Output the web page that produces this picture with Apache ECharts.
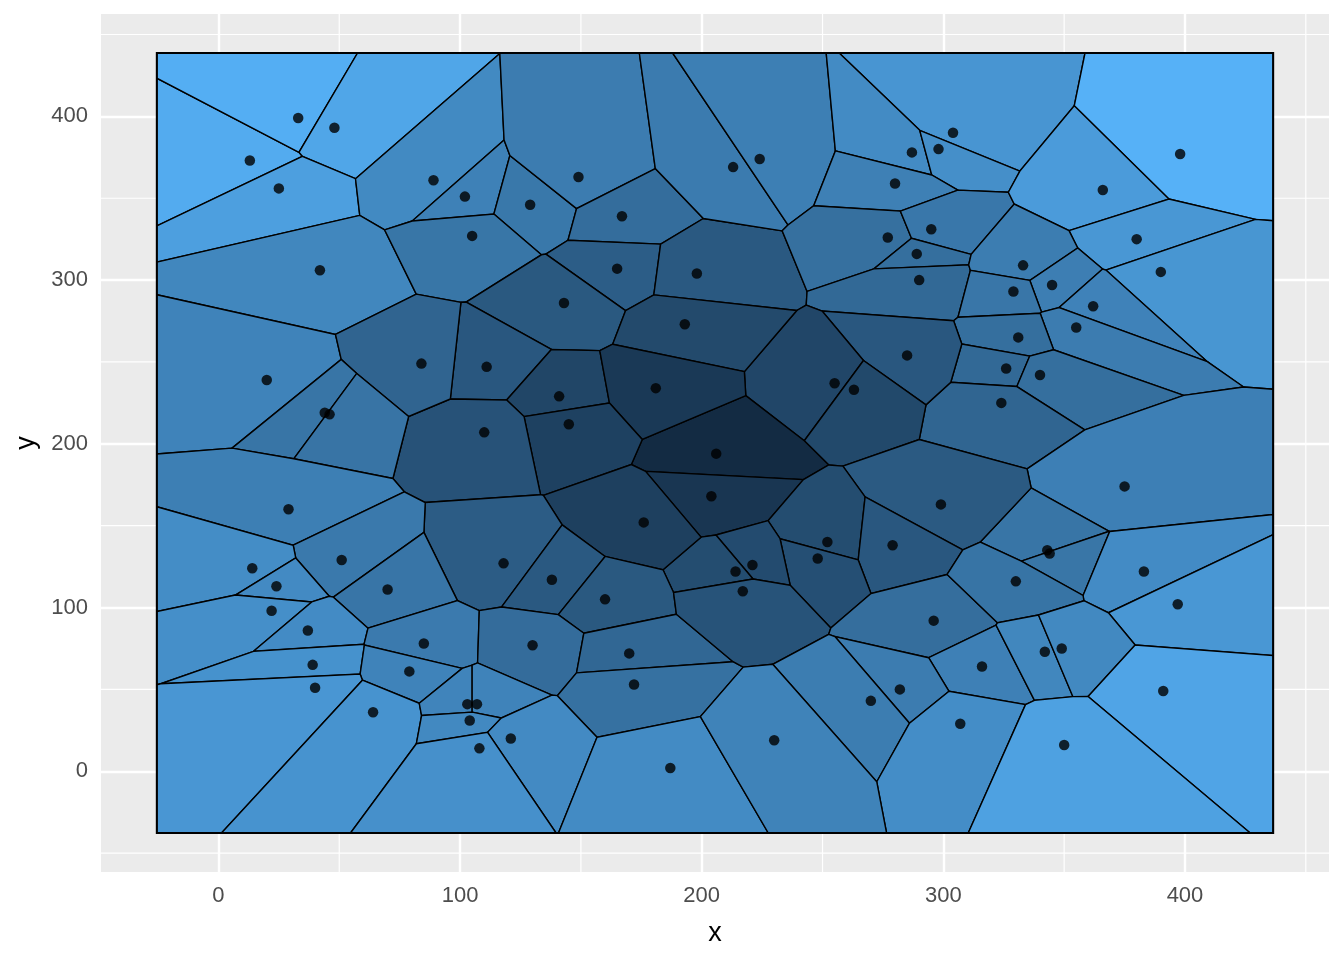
<!DOCTYPE html>
<html><head><meta charset="utf-8">
<script src="https://cdn.jsdelivr.net/npm/echarts@6/dist/echarts.min.js"></script>
<style>html,body{margin:0;padding:0;background:#fff}#c{width:1344px;height:960px}</style>
</head><body><div id="c"></div>
<script>
// ---- data ----
const pointX = [13,33,48,25,89,42,102,129,149,105,167,165,198,143,213,224,304,287,298,280,277,295,289,290,398,366,380,390,333,345,329,362,355,331,326,340,324,375,343,344,383,285,255,263,206,204,299,252,279,248,221,214,193,111,141,181,145,110,176,118,20,84,44,46,29,51,14,24,22,70,37,85,39,79,40,64,138,160,130,170,172,103,107,104,121,108,187,217,296,316,282,270,307,230,330,397,342,349,391,350];
const pointY = [373,399,393,356,361,306,351,346,363,327,339,307,304,286,369,374,390,378,380,359,326,331,316,300,377,355,325,305,309,297,293,284,271,265,246,242,225,174,135,133,122,254,237,233,194,168,163,140,138,130,126,122,273,247,229,234,212,207,152,127,239,249,219,218,160,129,124,113,98,111,86,78,65,61,51,36,117,105,77,72,53,41,41,31,20,14,2,110,92,64,50,43,29,19,116,102,73,75,49,16];
const distCenter = [200, 200];
const xTicks = [0, 100, 200, 300, 400];
const yTicks = [0, 100, 200, 300, 400];
const minorX = [-50, 50, 150, 250, 350, 450];
const minorY = [-50, 50, 150, 250, 350, 450];
const lowColor = '#132B43', highColor = '#56B1F7';

// ---- derived ----
const FONT = "'Liberation Sans', Arial, sans-serif";
const n = pointX.length;
const dist = pointX.map((x, i) => Math.sqrt((x - distCenter[0]) ** 2 + (pointY[i] - distCenter[1]) ** 2));
const xmin = Math.min(...pointX), xmax = Math.max(...pointX);
const ymin = Math.min(...pointY), ymax = Math.max(...pointY);
const bx0 = xmin - 0.1 * (xmax - xmin), bx1 = xmax + 0.1 * (xmax - xmin);
const by0 = ymin - 0.1 * (ymax - ymin), by1 = ymax + 0.1 * (ymax - ymin);
const axMin = bx0 - 0.05 * (bx1 - bx0), axMax = bx1 + 0.05 * (bx1 - bx0);
const ayMin = by0 - 0.05 * (by1 - by0), ayMax = by1 + 0.05 * (by1 - by0);

// Voronoi cells by half-plane clipping of the bounding box
function clip(poly, a, b, c) {
  const out = [];
  for (let k = 0; k < poly.length; k++) {
    const P = poly[k], Q = poly[(k + 1) % poly.length];
    const fp = a * P[0] + b * P[1] - c, fq = a * Q[0] + b * Q[1] - c;
    if (fp <= 0) out.push(P);
    if ((fp < 0 && fq > 0) || (fp > 0 && fq < 0)) {
      const t = fp / (fp - fq);
      out.push([P[0] + t * (Q[0] - P[0]), P[1] + t * (Q[1] - P[1])]);
    }
  }
  return out;
}
const cells = [];
for (let i = 0; i < n; i++) {
  let poly = [[bx0, by0], [bx1, by0], [bx1, by1], [bx0, by1]];
  for (let j = 0; j < n; j++) {
    if (j === i) continue;
    const a = pointX[j] - pointX[i], b = pointY[j] - pointY[i];
    const c = (pointX[j] ** 2 + pointY[j] ** 2 - pointX[i] ** 2 - pointY[i] ** 2) / 2;
    poly = clip(poly, a, b, c);
    if (poly.length === 0) break;
  }
  cells.push(poly);
}

// Lab colour interpolation (like ggplot's seq_gradient)
function hex2rgb(h) { return [1, 3, 5].map(k => parseInt(h.substr(k, 2), 16)); }
function lin(c) { c /= 255; return c <= 0.04045 ? c / 12.92 : Math.pow((c + 0.055) / 1.055, 2.4); }
function delin(c) { const v = c <= 0.0031308 ? 12.92 * c : 1.055 * Math.pow(c, 1 / 2.4) - 0.055; return Math.max(0, Math.min(255, Math.round(v * 255))); }
const WN = [0.95047, 1, 1.08883];
function f(t) { return t > 216 / 24389 ? Math.cbrt(t) : (841 / 108) * t + 4 / 29; }
function finv(t) { return t > 6 / 29 ? t * t * t : (108 / 841) * (t - 4 / 29); }
function rgb2lab(rgb) {
  const [r, g, b] = rgb.map(lin);
  const X = (0.4124564 * r + 0.3575761 * g + 0.1804375 * b) / WN[0];
  const Y = (0.2126729 * r + 0.7151522 * g + 0.0721750 * b) / WN[1];
  const Z = (0.0193339 * r + 0.1191920 * g + 0.9503041 * b) / WN[2];
  return [116 * f(Y) - 16, 500 * (f(X) - f(Y)), 200 * (f(Y) - f(Z))];
}
function lab2rgb(lab) {
  const fy = (lab[0] + 16) / 116, fx = fy + lab[1] / 500, fz = fy - lab[2] / 200;
  const X = finv(fx) * WN[0], Y = finv(fy) * WN[1], Z = finv(fz) * WN[2];
  const r = 3.2404542 * X - 1.5371385 * Y - 0.4985314 * Z;
  const g = -0.9692660 * X + 1.8760108 * Y + 0.0415560 * Z;
  const b = 0.0556434 * X - 0.2040259 * Y + 1.0572252 * Z;
  return 'rgb(' + [r, g, b].map(delin).join(',') + ')';
}
const labLo = rgb2lab(hex2rgb(lowColor)), labHi = rgb2lab(hex2rgb(highColor));
const dmin = Math.min(...dist), dmax = Math.max(...dist);
const colors = dist.map(d => {
  const t = (d - dmin) / (dmax - dmin);
  return lab2rgb([0, 1, 2].map(k => labLo[k] + t * (labHi[k] - labLo[k])));
});

const cellData = pointX.map((x, i) => [x, pointY[i], dist[i], i]);
const minorData = minorX.filter(v => v > axMin && v < axMax).map(v => [v, (ayMin + ayMax) / 2, 0])
  .concat(minorY.filter(v => v > ayMin && v < ayMax).map(v => [(axMin + axMax) / 2, v, 1]));

const chart = echarts.init(document.getElementById('c'), null, { renderer: 'canvas' });
chart.setOption({
  animation: false,
  backgroundColor: '#FFFFFF',
  grid: { left: 101, right: 15, top: 14, bottom: 88, show: true, backgroundColor: '#EBEBEB', borderWidth: 0, containLabel: false, outerBoundsMode: 'none' },
  xAxis: {
    type: 'value', min: axMin, max: axMax, position: 'bottom',
    axisLine: { show: false },
    axisTick: { show: true, length: 7, customValues: xTicks, lineStyle: { color: '#333333', width: 2.4 } },
    axisLabel: { customValues: xTicks, color: '#4D4D4D', fontSize: 22, fontFamily: FONT, margin: 13 },
    splitLine: { show: true, lineStyle: { color: '#FFFFFF', width: 2.4 } },
    name: 'x', nameLocation: 'middle', nameGap: 48,
    nameTextStyle: { color: '#000000', fontSize: 27, fontFamily: FONT }
  },
  yAxis: {
    type: 'value', min: ayMin, max: ayMax,
    axisLine: { show: false },
    axisTick: { show: true, length: 7, customValues: yTicks, lineStyle: { color: '#333333', width: 2.4 } },
    axisLabel: { customValues: yTicks, color: '#4D4D4D', fontSize: 22, fontFamily: FONT, margin: 13 },
    splitLine: { show: true, lineStyle: { color: '#FFFFFF', width: 2.4 } },
    name: 'y', nameLocation: 'middle', nameGap: 55, nameRotate: 90,
    nameTextStyle: { color: '#000000', fontSize: 27, fontFamily: FONT }
  },
  series: [
    {
      type: 'custom', z: 1, silent: true, clip: true,
      data: minorData, encode: { x: 0, y: 1 },
      renderItem: function (params, api) {
        const cs = params.coordSys;
        const p = api.coord([api.value(0), api.value(1)]);
        const vertical = api.value(2) === 0;
        const shape = vertical ? { x1: p[0], y1: cs.y, x2: p[0], y2: cs.y + cs.height }
                               : { x1: cs.x, y1: p[1], x2: cs.x + cs.width, y2: p[1] };
        return { type: 'line', shape: shape, style: { stroke: '#FFFFFF', lineWidth: 1.2 } };
      }
    },
    {
      type: 'custom', z: 2, silent: true,
      dimensions: ['x', 'y', 'd', 'i'],
      data: cellData, encode: { x: 0, y: 1 },
      renderItem: function (params, api) {
        const i = api.value(3);
        const pts = cells[i].map(p => api.coord(p));
        return { type: 'polygon', shape: { points: pts }, style: { fill: colors[i], stroke: '#000000', lineWidth: 1.4 } };
      }
    },
    {
      type: 'custom', z: 3, silent: true,
      data: [[bx0, by0, bx1, by1]], encode: { x: [0, 2], y: [1, 3] },
      renderItem: function (params, api) {
        const a = api.coord([api.value(0), api.value(1)]);
        const b = api.coord([api.value(2), api.value(3)]);
        return { type: 'rect', shape: { x: a[0], y: b[1], width: b[0] - a[0], height: a[1] - b[1] },
                 style: { fill: 'none', stroke: '#000000', lineWidth: 2 } };
      }
    },
    {
      type: 'scatter', z: 4, silent: true,
      data: pointX.map((x, i) => [x, pointY[i]]),
      symbol: 'circle', symbolSize: 10.5,
      itemStyle: { color: '#000000' }
    }
  ]
});
</script>
</body></html>
